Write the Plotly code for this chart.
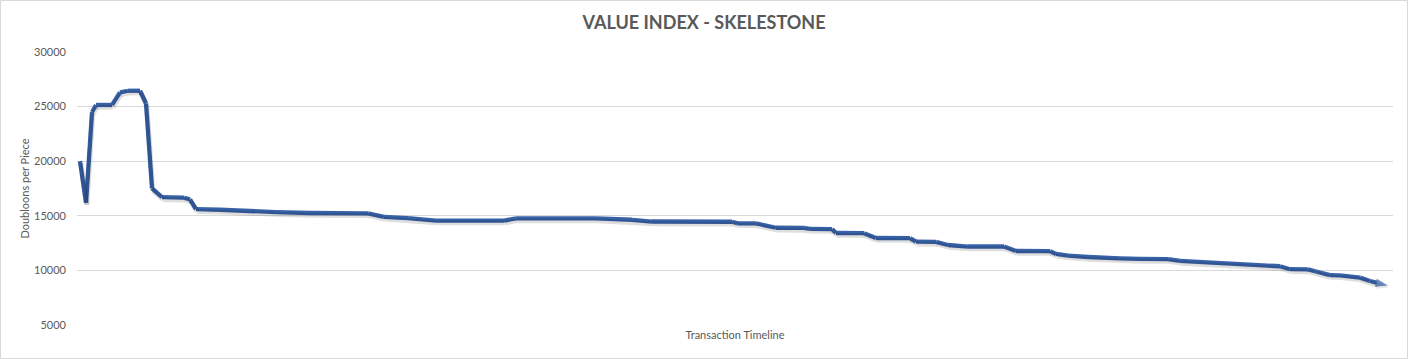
import plotly.graph_objects as go

# Transaction positions along the timeline and value index (doubloons per piece)
transaction = [0, 3, 6, 8, 16, 20, 24, 30, 33, 36, 41, 52, 55, 58, 70, 82, 98, 115,
               144, 152, 164, 178, 212, 218, 258, 276, 286, 326, 329, 338, 344, 348,
               362, 365, 376, 378, 392, 398, 415, 418, 428, 434, 444, 462, 468, 485,
               488, 494, 504, 515, 520, 530, 544, 550, 564, 574, 586, 600, 605, 614,
               618, 625, 630, 635, 640, 645, 650, 654]
doubloons = [20000, 16200, 24500, 25150, 25150, 26300, 26450, 26450, 25300, 17500,
             16700, 16650, 16500, 15600, 15550, 15420, 15330, 15250, 15220, 14900,
             14790, 14560, 14560, 14750, 14750, 14630, 14470, 14450, 14300, 14300,
             14050, 13900, 13880, 13800, 13780, 13420, 13400, 12960, 12950, 12620,
             12600, 12320, 12180, 12180, 11770, 11760, 11500, 11350, 11220, 11200,
             11100, 11040, 11030, 10860, 10730, 10620, 10530, 10370, 10100, 10080,
             9890, 9560, 9540, 9450, 9330, 9020, 8780, 8620]
y_ticks = [5000, 10000, 15000, 20000, 25000, 30000]
y_tick_labels = ["5000", "10000", "15000", "20000", "25000", "30000"]

title_text = "VALUE INDEX - SKELESTONE"
x_title = "Transaction Timeline"
y_title = "Doubloons per Piece"

line_color = "#3862A8"
text_color = "#595959"
font_family = "Lato, 'Open Sans', sans-serif"

X_RANGE = [-1.5, 656.5]
Y_RANGE = [4990, 30000]
PLOT_H = 273
shadow_dy = 2.2 * (Y_RANGE[1] - Y_RANGE[0]) / PLOT_H
shadow_dx = 0.8 * (X_RANGE[1] - X_RANGE[0]) / 1316

n = len(transaction)
symbols = ["circle"] * (n - 1) + ["arrow"]
sizes = [0] * (n - 1) + [13]

fig = go.Figure()
# soft drop shadow (same data, drawn on a slightly offset overlay axis)
fig.add_trace(go.Scatter(
    x=transaction, y=doubloons, mode="lines+markers", xaxis="x2", yaxis="y2",
    line=dict(color="rgba(0,0,0,0.13)", width=5),
    marker=dict(symbol=symbols, size=sizes, color="rgba(0,0,0,0.13)",
                angleref="previous", line=dict(width=0)),
    hoverinfo="skip", showlegend=False,
))
fig.add_trace(go.Scatter(
    x=transaction, y=doubloons, mode="lines+markers",
    line=dict(color=line_color, width=4.3),
    marker=dict(symbol=symbols, size=sizes, color=line_color,
                angleref="previous", line=dict(width=0)),
    hoverinfo="x+y", showlegend=False,
))

fig.update_layout(
    width=1408, height=359,
    margin=dict(l=77, r=15, t=52, b=34, pad=0),
    paper_bgcolor="white", plot_bgcolor="white",
    font=dict(family=font_family, color=text_color, size=11),
    title=dict(text="<b>" + title_text + "</b>", x=0.5, xanchor="center",
               y=1 - 23 / 359, yanchor="middle",
               font=dict(family=font_family, size=18, color=text_color)),
    xaxis=dict(range=X_RANGE, showgrid=False, zeroline=False, automargin=False,
               showticklabels=False, showline=False, ticks="",
               title=dict(text=x_title, standoff=6,
                          font=dict(size=11, color=text_color))),
    yaxis=dict(range=Y_RANGE, tickvals=y_ticks, ticktext=y_tick_labels,
               showgrid=True, automargin=False,
               gridcolor="#D9D9D9", gridwidth=1, zeroline=False, showline=False,
               ticks="", ticklabelstandoff=10,
               tickfont=dict(size=11, color=text_color),
               title=dict(text=y_title, standoff=2,
                          font=dict(size=11, color=text_color))),
    xaxis2=dict(range=[X_RANGE[0] - shadow_dx, X_RANGE[1] - shadow_dx],
                overlaying="x", visible=False),
    yaxis2=dict(range=[Y_RANGE[0] + shadow_dy, Y_RANGE[1] + shadow_dy],
                overlaying="y", visible=False),
    shapes=[dict(type="rect", xref="paper", yref="paper",
                 x0=(0.5 - 77) / 1316, x1=(1407.5 - 77) / 1316,
                 y0=(325 - 358.5) / 273, y1=(325 - 0.5) / 273,
                 line=dict(color="#D9D9D9", width=1), fillcolor="rgba(0,0,0,0)",
                 layer="below")],
)

fig.write_html("out.html",
               config={"displayModeBar": False},
               post_script="document.body.style.margin='0';"
                           "document.body.style.overflow='hidden';")
